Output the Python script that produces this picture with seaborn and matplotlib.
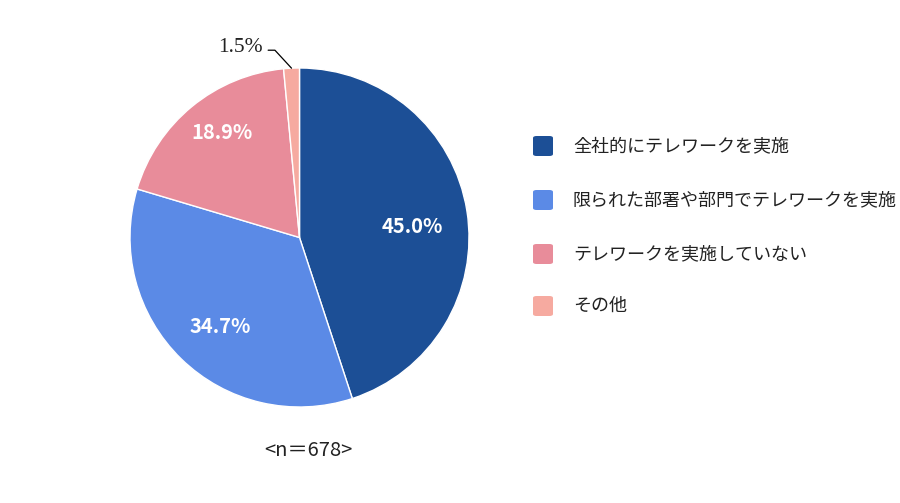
import numpy as np
import matplotlib
matplotlib.use("Agg")
import matplotlib.pyplot as plt
import seaborn as sns
from matplotlib.patches import FancyBboxPatch

categories = ["全社的にテレワークを実施", "限られた部署や部門でテレワークを実施",
              "テレワークを実施していない", "その他"]
values = [45.0, 34.7, 18.9, 1.5]
colors = ["#1c4f96", "#5b8ae6", "#e88c9a", "#f6aaa0"]
sample_note = "<n＝678>"

# label placement style (radial distance, angular nudge in degrees)
label_dist = [0.667, 0.70, 0.77]
label_nudge = [-3.7, 2.6, -2.7]

sns.set_theme(style="white")
plt.rcParams['font.family'] = ['Noto Sans CJK JP', 'DejaVu Sans']

W, H = 900, 503
fig = plt.figure(figsize=(9, 5.03), dpi=100)
cx, cy, r = 299.5, 237.5, 169.5
ax = fig.add_axes([(cx - r) / W, (H - cy - r) / H, 2 * r / W, 2 * r / H])

wedges, texts, autotexts = ax.pie(
    values, colors=colors, startangle=90, counterclock=False,
    autopct="%.1f%%", pctdistance=0.67, radius=1.0,
    wedgeprops=dict(edgecolor="white", linewidth=1.0),
    textprops=dict(color="white", fontsize=14.5, fontweight="bold"))
ax.set_xlim(-1, 1)
ax.set_ylim(-1, 1)
ax.set_aspect("equal")
ax.axis("off")

for i, (w, t) in enumerate(zip(wedges[:3], autotexts[:3])):
    ang = np.deg2rad((w.theta1 + w.theta2) / 2 + label_nudge[i])
    t.set_position((label_dist[i] * np.cos(ang), label_dist[i] * np.sin(ang)))

# small slice label outside
autotexts[-1].set_visible(False)
w = wedges[-1]
mid = np.deg2rad((w.theta1 + w.theta2) / 2)
ex, ey = np.cos(mid), np.sin(mid)
corner = (-0.145, 1.105)
ax.plot([ex, corner[0], corner[0] - 0.04], [ey, corner[1], corner[1]],
        color="black", lw=0.9, clip_on=False)
ax.text(corner[0] - 0.07, corner[1] + 0.015, f"{values[-1]:.1f}%", ha="right", va="center",
        fontsize=15.5, family=["Liberation Serif", "DejaVu Serif"], color="#222222")

# legend (manual layout to match)
ys = [146, 200, 254, 306]
for lab, col, yy in zip(categories, colors, ys):
    box = FancyBboxPatch((533 / W, (H - yy - 10) / H), 20 / W, 20 / H,
                         boxstyle="round,pad=0,rounding_size=0.004",
                         transform=fig.transFigure, facecolor=col, edgecolor="none")
    fig.patches.append(box)
    fig.text(573 / W, (H - yy) / H, lab, ha="left", va="center", fontsize=13.0, color="#222222")

fig.text(308 / W, (H - 450) / H, sample_note, ha="center", va="center", fontsize=14.5, color="#222222")

fig.savefig("out.png", dpi=100, facecolor="white")
